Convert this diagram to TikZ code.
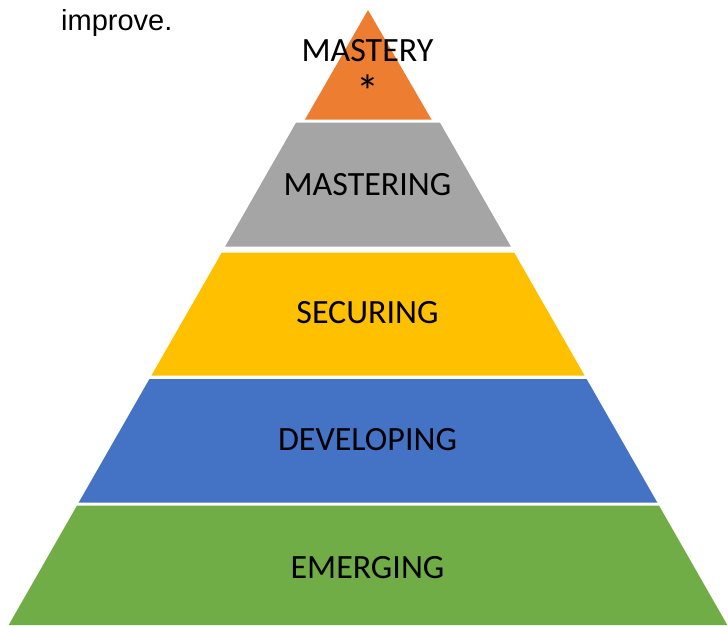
\documentclass[tikz,border=0pt]{standalone}
\usepackage{fontspec}
\setmainfont{Carlito}
\newfontfamily\arialfont{Liberation Sans}
\usepackage{tikz}

\definecolor{topcol}{HTML}{ED7D31}
\definecolor{graycol}{HTML}{A5A5A5}
\definecolor{goldcol}{HTML}{FFC000}
\definecolor{bluecol}{HTML}{4472C4}
\definecolor{greencol}{HTML}{70AD47}

\tikzset{
    level/.style={anchor=base, inner sep=0pt, font=\fontsize{34}{41}\selectfont}
}

\begin{document}
\begin{tikzpicture}[x=1pt, y=-1pt]
        \useasboundingbox (0,0) rectangle (728,625);
        \fill[topcol] (368,10) -- (305,119.5) -- (431.5,119.5) -- cycle;
        \fill[graycol] (296,122.7) -- (440,122.7) -- (510.8,246.5) -- (225.2,246.5) -- cycle;
        \fill[goldcol] (221.8,252.5) -- (514.2,252.5) -- (584.7,375.7) -- (151.3,375.7) -- cycle;
        \fill[bluecol] (149.4,379) -- (586.6,379) -- (657.4,502.7) -- (78.6,502.7) -- cycle;
        \fill[greencol] (76.9,505.7) -- (659.1,505.7) -- (727.3,625) -- (8.7,625) -- cycle;
        \node[anchor=base west, inner sep=0pt, font=\arialfont\fontsize{29}{34}\selectfont] (improve) at (61,30) {improve.};
        \node[level, anchor=north, align=center] (mastery) at (367.5,38.8) {MASTERY\\[5pt]{\fontsize{46}{41}\selectfont *}};
        \node[level] (mastering) at (367.5,195) {MASTERING};
        \node[level] (securing) at (367.5,323) {SECURING};
        \node[level] (developing) at (367.5,450.7) {DEVELOPING};
        \node[level] (emerging) at (367.5,578) {EMERGING};
    \end{tikzpicture}
\end{document}
